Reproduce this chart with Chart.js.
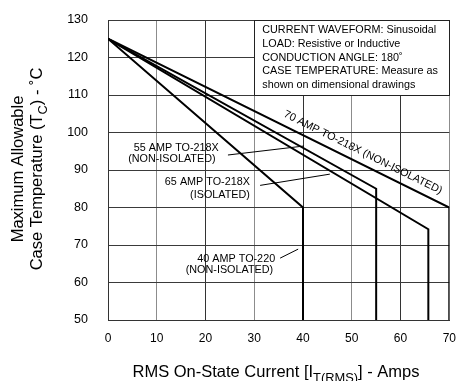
<!DOCTYPE html>
<html>
<head>
<meta charset="utf-8">
<script src="https://cdn.jsdelivr.net/npm/chart.js@4/dist/chart.umd.min.js"></script>
<style>
html, body { margin: 0; padding: 0; background: #fff; }
</style>
</head>
<body>
<canvas id="derating" width="460" height="381"></canvas>
<script>
// axis ticks
const xTicks = [0, 10, 20, 30, 40, 50, 60, 70];
const yTicks = [50, 60, 70, 80, 90, 100, 110, 120, 130];

// derating curves: RMS current (A) vs max case temperature (C)
const amps40 = [0, 40, 40];
const temp40 = [125, 80, 50];
const amps55 = [0, 55, 55];
const temp55 = [125, 85, 50];
const amps65 = [0, 65.7, 65.7];
const temp65 = [125, 74.2, 50];
const amps70 = [0, 70, 70];
const temp70 = [125, 80, 50];

const boxLines = [
  "CURRENT WAVEFORM: Sinusoidal",
  "LOAD: Resistive or Inductive",
  "CONDUCTION ANGLE: 180\u02da",
  "CASE TEMPERATURE: Measure as",
  "shown on dimensional drawings"
];

const FONT = '"Liberation Sans", Arial, Helvetica, sans-serif';
const INK = "#000";

function pts(xs, ys) {
  return xs.map((x, i) => ({ x: x, y: ys[i] }));
}

function curve(xs, ys) {
  return {
    data: pts(xs, ys),
    borderColor: INK,
    borderWidth: 2,
    pointRadius: 0,
    fill: false,
    tension: 0
  };
}

function P(chart, x, y) {
  return [chart.scales.x.getPixelForValue(x), chart.scales.y.getPixelForValue(y)];
}

// draws text pieces, some of them as subscripts
function rich(ctx, parts, x, y, size) {
  const widths = parts.map(p => {
    ctx.font = (p.sub ? size * 0.78 : size) + "px " + FONT;
    return ctx.measureText(p.t).width;
  });
  let cx = x - widths.reduce((a, b) => a + b, 0) / 2;
  parts.forEach((p, i) => {
    ctx.font = (p.sub ? size * 0.78 : size) + "px " + FONT;
    ctx.fillText(p.t, cx, y + (p.sub ? size * 0.28 : 0));
    cx += widths[i];
  });
}

const notes = {
  id: "notes",
  beforeDatasetsDraw(chart) {
    const ctx = chart.ctx;
    const [x0, y0] = P(chart, 30, 130);
    const [x1, y1] = P(chart, 70, 110);
    ctx.save();
    ctx.fillStyle = "#fff";
    ctx.fillRect(x0, y0, x1 - x0, y1 - y0);
    ctx.strokeStyle = "#222";
    ctx.lineWidth = 1;
    ctx.strokeRect(Math.round(x0) + 0.5, Math.round(y0) + 0.5, Math.round(x1 - x0), Math.round(y1 - y0));
    ctx.fillStyle = INK;
    ctx.font = "10.8px " + FONT;
    ctx.textBaseline = "middle";
    ctx.textAlign = "left";
    boxLines.forEach((s, i) => {
      ctx.fillText(s, x0 + 8, y0 + 10.5 + i * 13.6);
    });
    ctx.restore();
  },
  afterDatasetsDraw(chart) {
    const ctx = chart.ctx;
    ctx.save();
    ctx.fillStyle = INK;
    ctx.strokeStyle = INK;
    ctx.lineWidth = 1;
    ctx.font = "10.8px " + FONT;
    ctx.textBaseline = "middle";

    const label = (s, x, y, align) => {
      const [px, py] = P(chart, x, y);
      ctx.textAlign = align;
      ctx.fillText(s, px, py);
    };
    const leader = (xa, ya, xb, yb) => {
      const [pa, qa] = P(chart, xa, ya);
      const [pb, qb] = P(chart, xb, yb);
      ctx.beginPath();
      ctx.moveTo(pa, qa);
      ctx.lineTo(pb, qb);
      ctx.stroke();
    };

    label("55 AMP TO-218X", 14.0, 95.9, "center");
    label("(NON-ISOLATED)", 13.1, 92.9, "center");
    leader(24.6, 94.0, 40.2, 96.4);

    label("65 AMP TO-218X", 29.1, 86.9, "right");
    label("(ISOLATED)", 29.1, 83.3, "right");
    leader(31.2, 85.9, 45.5, 88.9);

    label("40 AMP TO-220", 26.3, 66.3, "center");
    label("(NON-ISOLATED)", 24.9, 63.3, "center");
    leader(35.3, 66.5, 39.0, 68.9);

    // label running along the 70 A curve
    const [ax, ay] = P(chart, amps70[0], temp70[0]);
    const [bx, by] = P(chart, amps70[1], temp70[1]);
    const ang = Math.atan2(by - ay, bx - ax);
    const t = 51.3 / amps70[1];
    const mx = ax + (bx - ax) * t, my = ay + (by - ay) * t;
    ctx.translate(mx + Math.sin(ang) * 11, my - Math.cos(ang) * 11);
    ctx.rotate(ang);
    ctx.textAlign = "center";
    ctx.fillText("70 AMP TO-218X (NON-ISOLATED)", 0, 0);
    ctx.restore();
  },
  afterDraw(chart) {
    const ctx = chart.ctx;
    ctx.save();
    ctx.fillStyle = INK;
    ctx.textAlign = "left";
    ctx.textBaseline = "alphabetic";
    rich(ctx, [
      { t: "RMS On-State Current [I" },
      { t: "T(RMS)", sub: true },
      { t: "] - Amps" }
    ], 276, 377, 16.5);

    ctx.translate(23, 169);
    ctx.rotate(-Math.PI / 2);
    rich(ctx, [{ t: "Maximum Allowable" }], 0, 0, 16.5);
    rich(ctx, [
      { t: "Case Temperature (T" },
      { t: "C", sub: true },
      { t: ") - \u02daC" }
    ], 0, 19, 16.5);
    ctx.restore();
  }
};

new Chart(document.getElementById("derating"), {
  type: "line",
  data: {
    datasets: [
      curve(amps40, temp40),
      curve(amps55, temp55),
      curve(amps65, temp65),
      curve(amps70, temp70)
    ]
  },
  options: {
    responsive: false,
    animation: false,
    layout: { padding: { top: 20, right: 10.7, left: 0, bottom: 0 } },
    plugins: { legend: { display: false }, tooltip: { enabled: false } },
    scales: {
      x: {
        type: "linear",
        min: 0,
        max: 70,
        afterBuildTicks: s => { s.ticks = xTicks.map(v => ({ value: v })); },
        afterFit: s => { s.height = 61; s.paddingLeft = 0; s.paddingRight = 0; },
        ticks: { color: INK, font: { family: FONT, size: 12 }, padding: 11 },
        grid: {
          drawTicks: false,
          color: c => (c.tick && c.tick.value % 20 === 10) ? "#8c8c8c" : "#333",
          lineWidth: 1
        },
        border: { color: "#333" }
      },
      y: {
        min: 50,
        max: 130,
        afterBuildTicks: s => { s.ticks = yTicks.map(v => ({ value: v })); },
        afterFit: s => { s.width = 108; s.paddingTop = 0; s.paddingBottom = 0; },
        ticks: { color: INK, font: { family: FONT, size: 12.5 }, padding: 20 },
        grid: { drawTicks: false, color: "#3a3a3a", lineWidth: 1 },
        border: { color: "#333" }
      }
    }
  },
  plugins: [notes]
});
</script>
</body>
</html>
